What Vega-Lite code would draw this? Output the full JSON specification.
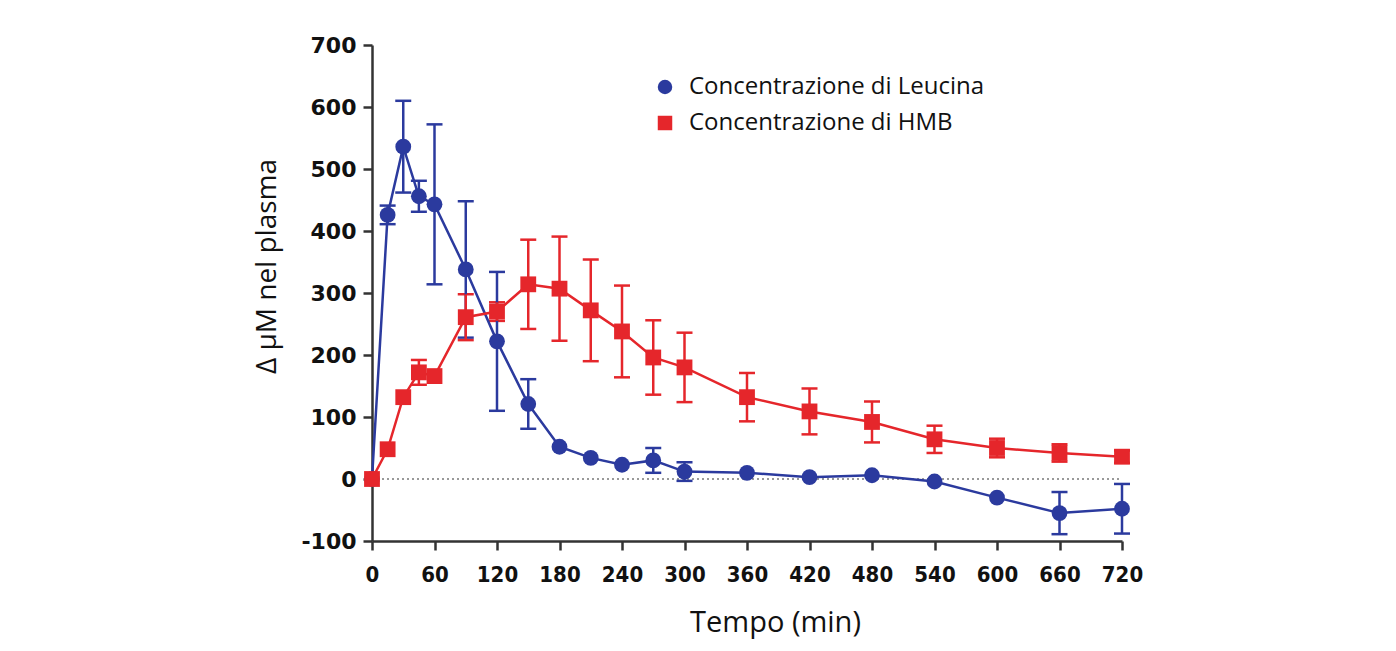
{
  "$schema": "https://vega.github.io/schema/vega-lite/v6.json",
  "autosize": {"type": "none"},
  "width": 750,
  "height": 496,
  "padding": {"left": 372, "top": 45, "right": 274, "bottom": 110},
  "background": "white",
  "config": {"view": {"stroke": null}},
  "data": {
    "values": [
      {"t": 0, "s": "Concentrazione di Leucina", "v": 0, "e": 0},
      {"t": 15, "s": "Concentrazione di Leucina", "v": 426, "e": 15},
      {"t": 30, "s": "Concentrazione di Leucina", "v": 536, "e": 74},
      {"t": 45, "s": "Concentrazione di Leucina", "v": 456, "e": 25},
      {"t": 60, "s": "Concentrazione di Leucina", "v": 443, "e": 129},
      {"t": 90, "s": "Concentrazione di Leucina", "v": 338, "e": 110},
      {"t": 120, "s": "Concentrazione di Leucina", "v": 222, "e": 112},
      {"t": 150, "s": "Concentrazione di Leucina", "v": 121, "e": 40},
      {"t": 180, "s": "Concentrazione di Leucina", "v": 52, "e": 0},
      {"t": 210, "s": "Concentrazione di Leucina", "v": 34, "e": 0},
      {"t": 240, "s": "Concentrazione di Leucina", "v": 23, "e": 0},
      {"t": 270, "s": "Concentrazione di Leucina", "v": 30, "e": 20},
      {"t": 300, "s": "Concentrazione di Leucina", "v": 12, "e": 15},
      {"t": 360, "s": "Concentrazione di Leucina", "v": 10, "e": 0},
      {"t": 420, "s": "Concentrazione di Leucina", "v": 3, "e": 0},
      {"t": 480, "s": "Concentrazione di Leucina", "v": 6, "e": 0},
      {"t": 540, "s": "Concentrazione di Leucina", "v": -4, "e": 0},
      {"t": 600, "s": "Concentrazione di Leucina", "v": -30, "e": 0},
      {"t": 660, "s": "Concentrazione di Leucina", "v": -55, "e": 34},
      {"t": 720, "s": "Concentrazione di Leucina", "v": -48, "e": 40},
      {"t": 0, "s": "Concentrazione di HMB", "v": 0, "e": 0},
      {"t": 15, "s": "Concentrazione di HMB", "v": 48, "e": 0},
      {"t": 30, "s": "Concentrazione di HMB", "v": 132, "e": 0},
      {"t": 45, "s": "Concentrazione di HMB", "v": 172, "e": 20},
      {"t": 60, "s": "Concentrazione di HMB", "v": 166, "e": 0},
      {"t": 90, "s": "Concentrazione di HMB", "v": 261, "e": 37},
      {"t": 120, "s": "Concentrazione di HMB", "v": 270, "e": 15},
      {"t": 150, "s": "Concentrazione di HMB", "v": 314, "e": 72},
      {"t": 180, "s": "Concentrazione di HMB", "v": 307, "e": 84},
      {"t": 210, "s": "Concentrazione di HMB", "v": 272, "e": 82},
      {"t": 240, "s": "Concentrazione di HMB", "v": 238, "e": 74},
      {"t": 270, "s": "Concentrazione di HMB", "v": 196, "e": 60},
      {"t": 300, "s": "Concentrazione di HMB", "v": 180, "e": 56},
      {"t": 360, "s": "Concentrazione di HMB", "v": 132, "e": 39},
      {"t": 420, "s": "Concentrazione di HMB", "v": 109, "e": 37},
      {"t": 480, "s": "Concentrazione di HMB", "v": 92, "e": 33},
      {"t": 540, "s": "Concentrazione di HMB", "v": 64, "e": 22},
      {"t": 600, "s": "Concentrazione di HMB", "v": 50, "e": 15},
      {"t": 660, "s": "Concentrazione di HMB", "v": 42, "e": 14},
      {"t": 720, "s": "Concentrazione di HMB", "v": 36, "e": 10}
    ]
  },
  "encoding": {
    "x": {
      "field": "t", "type": "quantitative",
      "scale": {"domain": [0, 720], "nice": false, "zero": false},
      "axis": {
        "values": [0, 60, 120, 180, 240, 300, 360, 420, 480, 540, 600, 660, 720],
        "title": "Tempo (min)", "grid": false,
        "domainColor": "#333333", "domainWidth": 2.5,
        "tickColor": "#333333", "tickWidth": 2.5, "tickSize": 9,
        "labelFont": "DejaVu Sans Condensed", "labelFontWeight": "bold", "labelFontSize": 22,
        "labelColor": "#111111", "labelPadding": 14, "labelFlush": false,
        "titleFont": "Open Sans", "titleFontWeight": "normal", "titleFontSize": 29, "titleColor": "#111111",
        "titleX": 403, "titleY": 81, "titleBaseline": "middle", "titleAlign": "center"
      }
    },
    "y": {
      "field": "v", "type": "quantitative",
      "scale": {"domain": [-100, 700], "nice": false, "zero": false},
      "axis": {
        "values": [-100, 0, 100, 200, 300, 400, 500, 600, 700],
        "labelExpr": "replace(datum.label, '−', '-')",
        "title": "Δ μM nel plasma", "grid": false,
        "domainColor": "#333333", "domainWidth": 2.5,
        "tickColor": "#333333", "tickWidth": 2.5, "tickSize": 9,
        "labelFont": "DejaVu Sans", "labelFontWeight": "bold", "labelFontSize": 22,
        "labelColor": "#111111", "labelPadding": 7, "labelFlush": false,
        "titleFont": "Open Sans", "titleFontWeight": "normal", "titleFontSize": 28, "titleColor": "#111111",
        "titleX": -105, "titleY": 221, "titleBaseline": "middle", "titleAlign": "center", "titleAngle": -90
      }
    },
    "color": {
      "field": "s", "type": "nominal",
      "scale": {"domain": ["Concentrazione di Leucina", "Concentrazione di HMB"], "range": ["#2b3a9e", "#e5262b"]},
      "legend": {
        "title": null, "orient": "none", "legendX": 281, "legendY": 30,
        "labelFont": "Open Sans", "labelFontSize": 24, "labelColor": "#111111", "labelLimit": 500,
        "symbolSize": 210, "labelOffset": 12, "rowPadding": 12, "padding": 0,
        "symbolStrokeWidth": 0, "symbolOpacity": 1
      }
    }
  },
  "layer": [
    {
      "mark": {"type": "rule", "color": "#999999", "strokeDash": [2, 3], "strokeWidth": 2},
      "encoding": {"y": {"datum": 0}, "x": {"datum": 0}, "x2": {"datum": 720}, "color": {"value": "#999999"}}
    },
    {
      "transform": [{"filter": "datum.e > 0"}],
      "mark": {"type": "errorbar", "thickness": 2.5, "ticks": {"size": 16, "opacity": 1}, "rule": {"opacity": 1}},
      "encoding": {
        "y": {"field": "v", "type": "quantitative"},
        "yError": {"field": "e"}
      }
    },
    {
      "mark": {"type": "line", "strokeWidth": 2.5},
      "encoding": {"order": {"field": "t"}}
    },
    {
      "mark": {"type": "point", "filled": true, "opacity": 1, "size": 250},
      "encoding": {
        "shape": {
          "field": "s", "type": "nominal",
          "scale": {"domain": ["Concentrazione di Leucina", "Concentrazione di HMB"], "range": ["circle", "square"]}
        }
      }
    }
  ]
}
